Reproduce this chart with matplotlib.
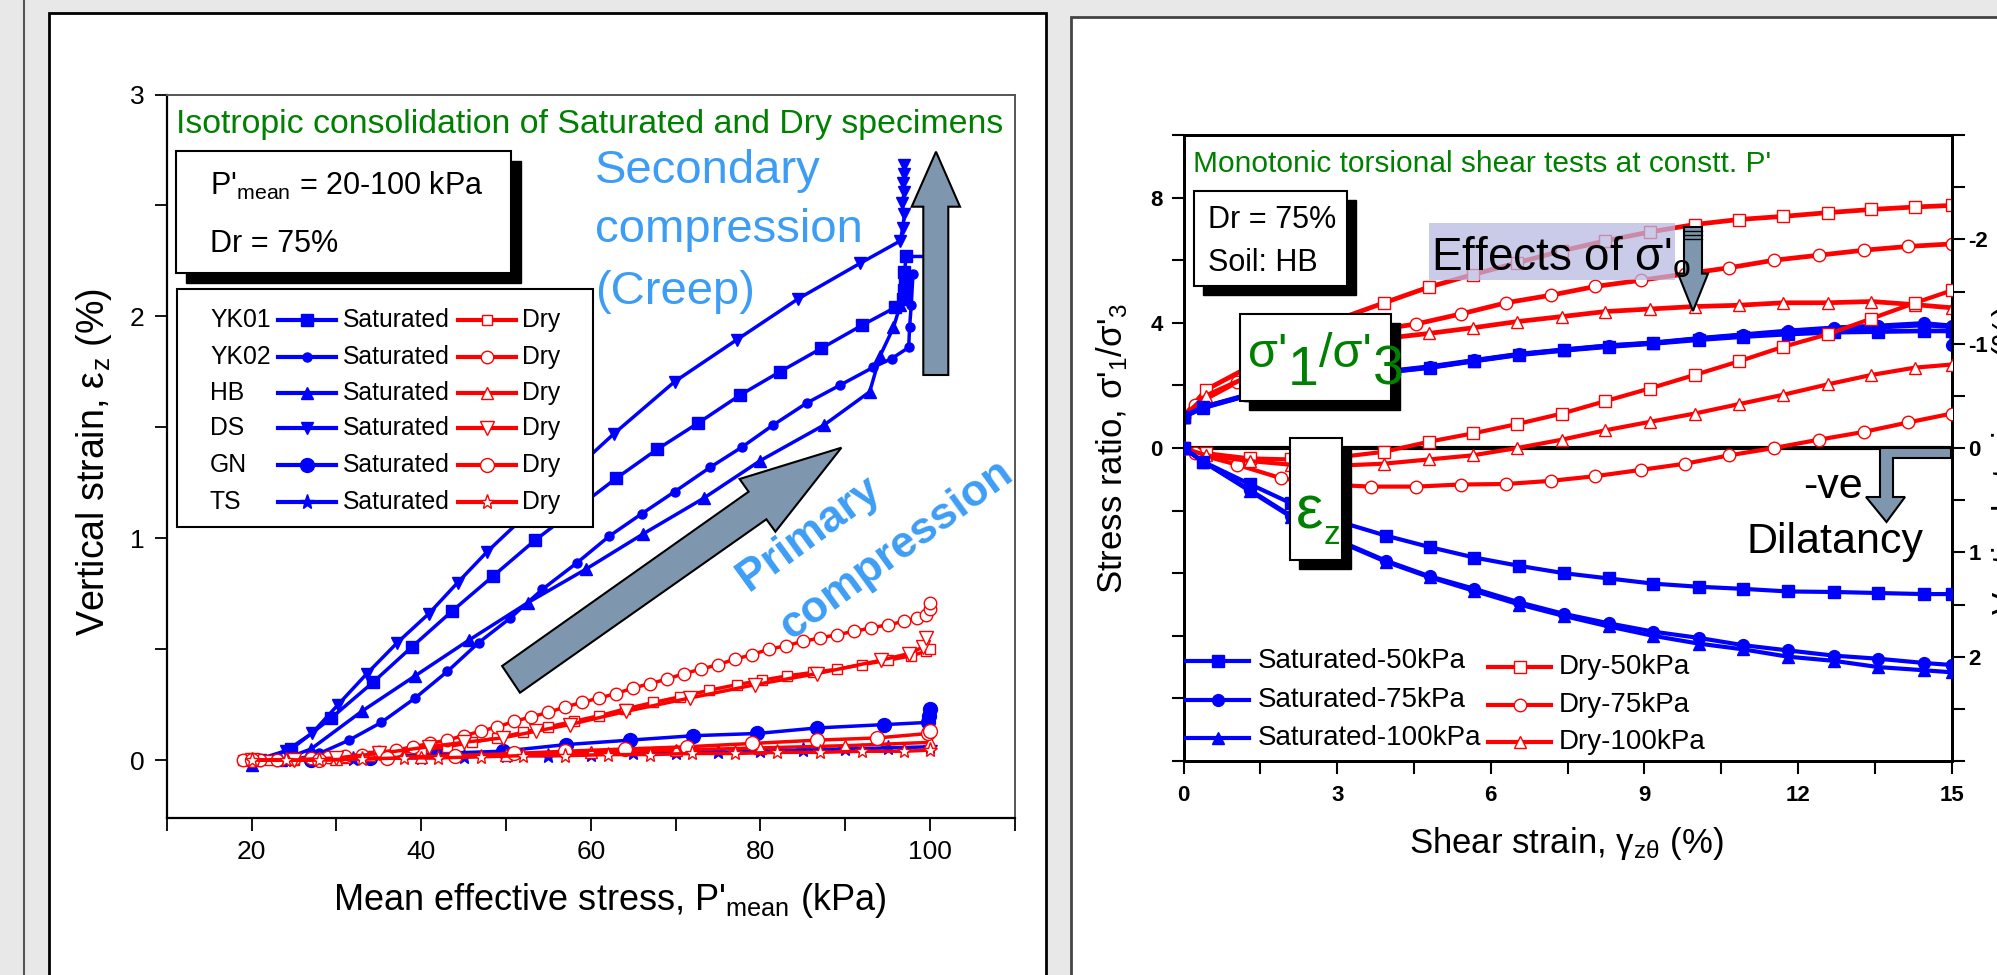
import matplotlib
matplotlib.use("Agg")
import numpy as np
import matplotlib.pyplot as plt
from matplotlib.patches import Polygon, Rectangle
from matplotlib.lines import Line2D

plt.rcParams['font.family'] = ['Liberation Sans', 'DejaVu Sans']
plt.rcParams['mathtext.fontset'] = 'custom'
plt.rcParams['mathtext.rm'] = 'Liberation Sans'
plt.rcParams['mathtext.it'] = 'Liberation Sans:italic'
plt.rcParams['mathtext.bf'] = 'Liberation Sans:bold'
plt.rcParams['mathtext.default'] = 'regular'

W, H = 1997, 975
BLUE = '#0000ff'
RED = '#ff0000'
GREEN = '#008000'
SKY = '#3d9df5'
SLATE = '#7f97ae'

# ---------------- left panel: isotropic consolidation ----------------
soils = ['YK01', 'YK02', 'HB', 'DS', 'GN', 'TS']
soil_markers = ['s', 'o', '^', 'v', 'o', '*']

# saturated specimens (P'mean kPa, vertical strain %)
sat_yk01_p = [20.5, 24.7, 29.4, 34.3, 38.9, 43.6, 48.5, 53.4, 58.2, 63.0, 67.8, 72.7, 77.6, 82.3, 87.2,
              92.0, 95.9, 96.8, 97.0, 97.1, 97.0, 97.2, 100.0, 100.0, 100.1, 100.0]
sat_yk01_e = [0.0, 0.05, 0.19, 0.35, 0.51, 0.67, 0.83, 0.99, 1.13, 1.27, 1.40, 1.52, 1.645, 1.75, 1.856,
              1.96, 2.04, 2.08, 2.12, 2.16, 2.20, 2.27, 2.27, 2.33, 2.38, 2.43]
sat_yk02_p = [20, 25, 28, 31.5, 35.3, 39.3, 43.1, 46.8, 50.5, 54.3, 58.4, 62.2, 66.0, 69.9, 74.1, 77.8,
              81.5, 85.5, 89.4, 93.3, 95.5, 97.5, 97.6, 97.8, 98.0]
sat_yk02_e = [-0.01, 0.0, 0.03, 0.09, 0.17, 0.28, 0.40, 0.53, 0.64, 0.77, 0.89, 1.01, 1.11, 1.21, 1.32, 1.41,
              1.51, 1.61, 1.69, 1.77, 1.81, 1.86, 1.95, 2.05, 2.19]
sat_hb_p = [20, 23.5, 27.0, 33.0, 39.3, 45.6, 52.6, 59.4, 66.2, 73.3, 80.0, 87.5, 92.9, 94.1, 95.7, 96.5, 97.0]
sat_hb_e = [-0.02, 0.0, 0.05, 0.22, 0.38, 0.54, 0.71, 0.86, 1.02, 1.18, 1.35, 1.51, 1.66, 1.82, 1.95, 2.05, 2.15]
sat_ds_p = [21, 24, 27.1, 30.2, 33.6, 37.2, 40.9, 44.3, 47.8, 55.3, 62.7, 69.9, 77.2, 84.5, 91.8, 96.5,
            96.8, 97.0, 96.7, 97.0, 96.8, 97.0, 96.9]
sat_ds_e = [0.0, 0.04, 0.12, 0.25, 0.39, 0.53, 0.66, 0.80, 0.94, 1.21, 1.47, 1.706, 1.894, 2.08, 2.24, 2.34,
            2.40, 2.46, 2.51, 2.56, 2.60, 2.64, 2.68]
sat_gn_p = [20, 27, 34, 42, 49.6, 57.1, 64.6, 72.1, 79.6, 86.7, 94.6, 99.8, 99.9, 100.0]
sat_gn_e = [0.0, 0.0, 0.01, 0.03, 0.04, 0.07, 0.09, 0.11, 0.12, 0.145, 0.16, 0.17, 0.20, 0.23]
sat_ts_p = [20, 24, 28, 32, 36, 40, 45, 50, 55, 60, 65, 70, 75, 80, 85, 90, 95, 100]
sat_ts_e = [-0.01, 0.0, 0.0, 0.005, 0.01, 0.01, 0.015, 0.02, 0.02, 0.025, 0.03, 0.03, 0.035, 0.04, 0.045,
            0.05, 0.055, 0.06]

# dry specimens
dry_yk01_p = [19, 22, 25, 28, 31, 34, 37, 40, 43, 46, 49, 52, 55, 58, 61, 64, 67.4, 70.5, 74, 77.2, 80.2,
              83.2, 86.2, 89.1, 92, 95.0, 97.8, 99.5, 100]
dry_yk01_e = [0.0, 0.0, 0.0, 0.005, 0.01, 0.02, 0.03, 0.045, 0.06, 0.08, 0.10, 0.125, 0.15, 0.175, 0.20,
              0.23, 0.26, 0.285, 0.315, 0.34, 0.36, 0.38, 0.395, 0.41, 0.43, 0.45, 0.47, 0.49, 0.5]
dry_yk02_p = [19, 21, 23, 25, 27, 29, 31, 33, 35, 37, 39, 41, 43, 45, 47, 49, 51, 53, 55, 57, 59, 61, 63,
              65, 67, 69, 71, 73, 75, 77, 79, 81, 83, 85, 87, 89, 91, 93, 95, 97, 98.5, 99.5, 100, 100]
dry_yk02_e = [0.0, 0.0, 0.0, 0.005, 0.01, 0.015, 0.02, 0.025, 0.035, 0.045, 0.06, 0.075, 0.09, 0.11, 0.13,
              0.15, 0.175, 0.195, 0.215, 0.24, 0.26, 0.28, 0.30, 0.325, 0.345, 0.365, 0.39, 0.41, 0.43,
              0.455, 0.475, 0.50, 0.515, 0.535, 0.55, 0.565, 0.58, 0.595, 0.61, 0.625, 0.64, 0.655, 0.68, 0.71]
dry_hb_p = [20, 30, 40, 50, 60, 70, 80, 90, 100]
dry_hb_e = [0.0, 0.005, 0.015, 0.025, 0.035, 0.045, 0.055, 0.065, 0.08]
dry_ds_p = [20, 25, 30, 35, 40.9, 45, 49.6, 53.5, 57.5, 64.2, 71.7, 79.4, 86.7, 94.2, 97.5, 99.2, 99.5]
dry_ds_e = [0.0, 0.0, 0.01, 0.03, 0.06, 0.08, 0.10, 0.13, 0.16, 0.22, 0.28, 0.34, 0.39, 0.45, 0.48, 0.51, 0.55]
dry_gn_p = [20, 28, 36, 44, 51, 57, 64, 71.3, 79, 86.7, 93.8, 99.8, 100]
dry_gn_e = [0.0, 0.0, 0.01, 0.02, 0.03, 0.04, 0.05, 0.06, 0.075, 0.09, 0.10, 0.12, 0.13]
dry_ts_p = [20, 24, 28, 33, 38, 42, 47, 52, 57, 62, 67, 72, 77, 82, 87, 92, 97, 100]
dry_ts_e = [0.0, 0.0, 0.0, 0.005, 0.01, 0.01, 0.015, 0.02, 0.02, 0.025, 0.025, 0.03, 0.03, 0.035, 0.035,
            0.04, 0.04, 0.045]

# ---------------- right panel: torsional shear on HB ----------------
series_names = ['Saturated-50kPa', 'Saturated-75kPa', 'Saturated-100kPa', 'Dry-50kPa', 'Dry-75kPa', 'Dry-100kPa']

sat_x = [0, 0.38, 1.29, 2.1, 3.0, 3.95, 4.81, 5.68, 6.56, 7.43, 8.3, 9.17, 10.06, 10.93, 11.8, 12.7,
         13.57, 14.45, 15]
sat50_sr = [1.0, 1.3, 1.7, 2.05, 2.25, 2.42, 2.57, 2.78, 2.98, 3.12, 3.24, 3.34, 3.46, 3.56, 3.64, 3.7,
            3.72, 3.74, 3.74]
sat50_ez = [0, 0.13, 0.345, 0.53, 0.70, 0.84, 0.95, 1.05, 1.13, 1.2, 1.25, 1.30, 1.33, 1.35, 1.375, 1.38,
            1.39, 1.40, 1.40]
sat75_x = [0, 0.38, 1.29, 2.1, 3.0, 3.95, 4.81, 5.68, 6.56, 7.43, 8.3, 9.17, 10.06, 10.93, 11.8, 12.7,
           13.57, 14.45, 15, 15]
sat75_sr = [1.0, 1.3, 1.72, 2.08, 2.28, 2.44, 2.6, 2.8, 3.0, 3.14, 3.27, 3.36, 3.5, 3.62, 3.74, 3.84,
            3.9, 3.98, 3.9, 3.3]
sat75_ez = [0, 0.13, 0.40, 0.65, 0.88, 1.08, 1.23, 1.35, 1.48, 1.59, 1.68, 1.76, 1.82, 1.89, 1.94, 1.99,
            2.02, 2.06, 2.08, 2.08]
sat100_sr = [1.0, 1.28, 1.7, 2.06, 2.27, 2.43, 2.58, 2.79, 2.99, 3.13, 3.26, 3.35, 3.49, 3.6, 3.71, 3.8,
             3.86, 3.93, 3.88]
sat100_ez = [0, 0.13, 0.41, 0.66, 0.89, 1.09, 1.24, 1.37, 1.50, 1.61, 1.71, 1.80, 1.875, 1.93, 2.0, 2.04,
             2.1, 2.13, 2.15]

dry_x = [0, 0.44, 1.29, 2.1, 3.0, 3.92, 4.79, 5.65, 6.52, 7.39, 8.24, 9.1, 9.98, 10.84, 11.71, 12.58,
         13.43, 14.28, 15]
dry50_sr = [1.0, 1.86, 2.6, 3.4, 4.1, 4.64, 5.14, 5.54, 5.92, 6.3, 6.62, 6.9, 7.14, 7.3, 7.4, 7.52, 7.62,
            7.7, 7.75]
dry50_ez = [0, 0.05, 0.10, 0.11, 0.09, 0.036, -0.06, -0.14, -0.23, -0.33, -0.45, -0.57, -0.70, -0.83,
            -0.97, -1.09, -1.24, -1.39, -1.51]
dry75_x = [0, 0.22, 1.04, 1.91, 2.8, 3.66, 4.54, 5.41, 6.3, 7.17, 8.04, 8.93, 9.8, 10.66, 11.53, 12.41,
           13.29, 14.15, 15]
dry75_sr = [1.0, 1.38, 2.1, 2.8, 3.4, 3.75, 3.96, 4.28, 4.64, 4.88, 5.16, 5.36, 5.56, 5.76, 6.0, 6.16,
            6.32, 6.44, 6.52]
dry75_ez = [0, 0.05, 0.16, 0.29, 0.35, 0.37, 0.37, 0.35, 0.345, 0.315, 0.27, 0.21, 0.15, 0.07, 0.0, -0.08,
            -0.155, -0.245, -0.33]
dry100_sr = [1.0, 1.67, 2.3, 2.9, 3.3, 3.5, 3.66, 3.84, 4.04, 4.2, 4.36, 4.44, 4.52, 4.56, 4.64, 4.64,
             4.68, 4.58, 4.48]
dry100_ez = [0, 0.07, 0.125, 0.16, 0.17, 0.15, 0.11, 0.07, 0.0, -0.08, -0.17, -0.25, -0.33, -0.42, -0.51,
             -0.61, -0.70, -0.77, -0.8]


fig = plt.figure(figsize=(W / 100, H / 100), dpi=100, facecolor='#e8e8e8')
renderer = fig.canvas.get_renderer()


def fx(x):
    return x / W


def fy(y):
    return 1 - y / H


def rect(x0, y0, x1, y1, **kw):
    r = Rectangle((fx(x0), fy(y1)), (x1 - x0) / W, (y1 - y0) / H, transform=fig.transFigure, **kw)
    fig.add_artist(r)
    return r


def poly(pts, **kw):
    p = Polygon([(fx(x), fy(y)) for x, y in pts], closed=True, transform=fig.transFigure, **kw)
    fig.add_artist(p)


def label(x, y, s, **kw):
    kw.setdefault('zorder', 8)
    return fig.text(fx(x), fy(y), s, **kw)


def chain(x, pieces, color):
    # write pieces one after another on their own baselines and sizes
    for s, base, size in pieces:
        t = label(x, base, s, color=color, ha='left', va='baseline', fontsize=size)
        x = t.get_window_extent(renderer).x1 + 0.5


def shadow_box(x0, y0, x1, y1, off=9, z=5):
    rect(x0 + off, y0 + off, x1 + off, y1 + off, fc='k', ec='k', lw=1, zorder=z)
    rect(x0, y0, x1, y1, fc='white', ec='k', lw=1.5, zorder=z + 0.1)


def handle(x0, x1, y, color, marker, mfc, ms):
    ln = Line2D([fx(x0), fx((x0 + x1) / 2), fx(x1)], [fy(y)] * 3, transform=fig.transFigure,
                color=color, lw=3, marker=marker, markevery=[1], mfc=mfc, mec=color, mew=1,
                ms=ms, zorder=7)
    fig.add_artist(ln)


# panel frames
fig.add_artist(Line2D([fx(24), fx(24)], [0, 1], transform=fig.transFigure, color='#555555', lw=1.5,
                      zorder=-3))
rect(49, 13, 1046, 1010, fc='white', ec='k', lw=2, zorder=-2)
rect(1071, 17, 2010, 1010, fc='white', ec='#444444', lw=2, zorder=-2)

# ================= left axes =================
axL = fig.add_axes([166.8 / W, 1 - 817.8 / H, (1014.7 - 166.8) / W, (817.8 - 94.5) / H])
axL.set_xlim(10, 110)
axL.set_ylim(-0.26, 3)
axL.set_xticks([20, 40, 60, 80, 100])
axL.set_xticks(np.arange(10, 111, 10), minor=True)
axL.set_yticks([0, 1, 2, 3])
axL.set_yticks(np.arange(0, 3.01, 0.5), minor=True)
axL.tick_params(which='both', direction='out', length=9, width=1.3, labelsize=19)
axL.tick_params(axis='x', pad=7)
axL.tick_params(axis='y', pad=7)
for s in ['left', 'bottom']:
    axL.spines[s].set_linewidth(1.6)
for s in ['top', 'right']:
    axL.spines[s].set_color('#555555')
    axL.spines[s].set_linewidth(1.4)

sat_sets = [(sat_yk01_p, sat_yk01_e, 's', 8.5), (sat_yk02_p, sat_yk02_e, 'o', 6.5),
            (sat_hb_p, sat_hb_e, '^', 9), (sat_ds_p, sat_ds_e, 'v', 9),
            (sat_gn_p, sat_gn_e, 'o', 10), (sat_ts_p, sat_ts_e, '*', 11)]
dry_sets = [(dry_yk01_p, dry_yk01_e, 's', 7.5), (dry_yk02_p, dry_yk02_e, 'o', 9),
            (dry_hb_p, dry_hb_e, '^', 9), (dry_ds_p, dry_ds_e, 'v', 10),
            (dry_gn_p, dry_gn_e, 'o', 10), (dry_ts_p, dry_ts_e, '*', 11)]
for p, e, m, ms in sat_sets:
    axL.plot(p, e, color=BLUE, lw=2.5, marker=m, ms=ms, mfc=BLUE, mec=BLUE, zorder=3)
for p, e, m, ms in dry_sets:
    axL.plot(p, e, color=RED, lw=2.5, marker=m, ms=ms, mfc='white', mec=RED, mew=1, zorder=4)

label(609.5, 901, "Mean effective stress, P'$_{mean}$ (kPa)", ha='center', va='center', fontsize=26)
label(94, 462, "Vertical strain, $\\varepsilon_z$ (%)", rotation=90, ha='center', va='center', fontsize=27)
label(175.5, 124.4, "Isotropic consolidation of Saturated and Dry specimens", color=GREEN,
      ha='left', va='center', fontsize=24.4)

# info box
shadow_box(176, 150.7, 510.7, 272.7, off=10)
label(210, 195, "P'$_{mean}$ = 20-100 kPa", ha='left', va='baseline', fontsize=22)
label(210, 251.7, "Dr = 75%", ha='left', va='baseline', fontsize=22)

# custom legend
rect(177.3, 289.3, 592.7, 527.4, fc='white', ec='k', lw=1.5, zorder=5)
leg_rows = [320, 356.7, 393.3, 428.3, 465, 501.7]
for i, name in enumerate(soils):
    y = leg_rows[i]
    label(210, y, name, ha='left', va='center', fontsize=17.8)
    handle(278, 336, y, BLUE, soil_markers[i], BLUE, sat_sets[i][3])
    label(343, y, "Saturated", ha='left', va='center', fontsize=17.8)
    handle(458, 516, y, RED, soil_markers[i], 'white', dry_sets[i][3])
    label(522, y, "Dry", ha='left', va='center', fontsize=17.8)

# creep annotation
label(595, 170.8, "Secondary", color=SKY, ha='left', va='center', fontsize=34)
label(595, 230, "compression", color=SKY, ha='left', va='center', fontsize=34)
label(595, 291.7, "(Creep)", color=SKY, ha='left', va='center', fontsize=34)
poly([(923.3, 375), (923.3, 206.7), (911.7, 206.7), (936, 151.7), (960, 206.7), (948.3, 206.7),
      (948.3, 375)], fc=SLATE, ec='k', lw=1.5, zorder=6)

# primary compression annotation
poly([(502.1, 666), (748.6, 491.7), (739.6, 479), (841.4, 447.7), (775.4, 531.7), (766.4, 519.3),
      (520, 692.7)], fc=SLATE, ec='k', lw=1.5, zorder=6)
label(809, 534, "Primary", color=SKY, fontweight='bold', rotation=36, rotation_mode='anchor',
      ha='center', va='center', fontsize=32)
label(896, 550, "compression", color=SKY, fontweight='bold', rotation=36, rotation_mode='anchor',
      ha='center', va='center', fontsize=32)

# ================= right axes =================
axR = fig.add_axes([1183.5 / W, 1 - 761 / H, (1951.7 - 1183.5) / W, (761 - 135) / H])
axR.set_xlim(0, 15)
axR.set_ylim(-10, 10)
axR.set_xticks([0, 3, 6, 9, 12, 15], labels=['0', '3', '6', '9', '12', '15'], fontweight='bold', fontsize=16)
axR.set_xticks(np.arange(0, 15.1, 1.5), minor=True)
axR.set_yticks([0, 4, 8], labels=['0', '4', '8'], fontweight='bold', fontsize=16)
axR.set_yticks(np.arange(-10, 11, 2), minor=True)
axR.tick_params(which='both', direction='out', length=9, width=1.5)
axR.tick_params(axis='x', pad=8)
axR.tick_params(axis='y', pad=6)
for s in axR.spines.values():
    s.set_linewidth(2)
axR.axhline(0, color='k', lw=3, zorder=1.5)

ax2 = axR.twinx()
ax2.set_ylim(3, -3)
ax2.set_yticks([-2, -1, 0, 1, 2], labels=['-2', '-1', '0', '1', '2'], fontweight='bold', fontsize=16)
ax2.set_yticks(np.arange(-3, 3.01, 0.5), minor=True)
ax2.tick_params(which='both', direction='out', length=9, width=1.5, pad=3)
for s in ax2.spines.values():
    s.set_linewidth(2)

sat_right = [(sat_x, sat50_sr, sat50_ez, 's', 8), (sat75_x, sat75_sr, sat75_ez, 'o', 8.5),
             (sat_x, sat100_sr, sat100_ez, '^', 9)]
dry_right = [(dry_x, dry50_sr, dry50_ez, 's', 8), (dry75_x, dry75_sr, dry75_ez, 'o', 9),
             (dry_x, dry100_sr, dry100_ez, '^', 9)]
for x, sr, ez, m, ms in dry_right:
    axR.plot(x, sr, color=RED, lw=3.4, marker=m, ms=ms, mfc='white', mec=RED, mew=1, zorder=3)
    ax2.plot(x, ez, color=RED, lw=3, marker=m, ms=ms, mfc='white', mec=RED, mew=1, zorder=3)
for x, sr, ez, m, ms in sat_right:
    axR.plot(x, sr, color=BLUE, lw=3.4, marker=m, ms=ms, mfc=BLUE, mec=BLUE, zorder=4)
    ax2.plot(x, ez, color=BLUE, lw=3, marker=m, ms=ms, mfc=BLUE, mec=BLUE, zorder=4)

label(1566, 844, "Shear strain, $\\gamma_{z\\theta}$ (%)", ha='center', va='center', fontsize=25)
label(1112, 449, "Stress ratio, σ'$_1$/σ'$_3$", rotation=90, ha='center', va='center', fontsize=25)
label(1990, 460, "Vertical strain, $\\varepsilon_z$ (%)", rotation=90, ha='left', va='center', fontsize=24)
label(1193, 163.6, "Monotonic torsional shear tests at constt. P'", color=GREEN, ha='left',
      va='center', fontsize=21.5)

# Dr / soil box
shadow_box(1193.7, 191, 1347, 286, off=9)
label(1208.3, 228.3, "Dr = 75%", ha='left', va='baseline', fontsize=22)
label(1208.3, 270.7, "Soil: HB", ha='left', va='baseline', fontsize=22)

# effects of confining stress
rect(1429, 223, 1675, 280, fc='#b9b9e2', ec='none', alpha=0.75, zorder=6)
label(1431, 270, "Effects of σ'$_o$", ha='left', va='baseline', fontsize=33, zorder=9)
poly([(1684, 227), (1702, 227), (1702, 273.6), (1708, 273.6), (1693, 311), (1678, 273.6), (1684, 273.6)],
     fc=SLATE, ec='k', lw=1.5, zorder=7)
for yy in [231, 235, 239]:
    fig.add_artist(Line2D([fx(1684), fx(1702)], [fy(yy)] * 2, transform=fig.transFigure, color='k',
                          lw=1, zorder=7.5))

# stress ratio box
shadow_box(1240.2, 314, 1391.2, 401, off=9)
chain(1248, [("σ'", 366.7, 35), ("1", 385, 40), ("/σ'", 366.7, 35), ("3", 385, 40)], GREEN)

# strain box
shadow_box(1290, 438, 1342, 560, off=9)
chain(1296, [("ε", 528.6, 44), ("z", 544, 24)], GREEN)

# dilatancy annotation
poly([(1951, 448), (1951, 458), (1893, 458), (1893, 497), (1905, 497), (1886.5, 522), (1866, 497),
      (1880, 497), (1880, 448)], fc=SLATE, ec='k', lw=1.5, zorder=6)
label(1833, 487, "-ve", ha='center', va='center', fontsize=31)
label(1835, 542, "Dilatancy", ha='center', va='center', fontsize=31)

# right legend
col1_rows = [661, 699.6, 738]
col2_rows = [666.7, 704.6, 742]
right_markers = ['s', 'o', '^']
for i in range(3):
    handle(1186, 1249, col1_rows[i], BLUE, right_markers[i], BLUE, sat_right[i][4])
    label(1258, col1_rows[i], series_names[i], ha='left', va='center', fontsize=20)
    handle(1488, 1551, col2_rows[i], RED, right_markers[i], 'white', dry_right[i][4])
    label(1559, col2_rows[i], series_names[i + 3], ha='left', va='center', fontsize=20)

fig.savefig('out.png', dpi=100, facecolor=fig.get_facecolor())
